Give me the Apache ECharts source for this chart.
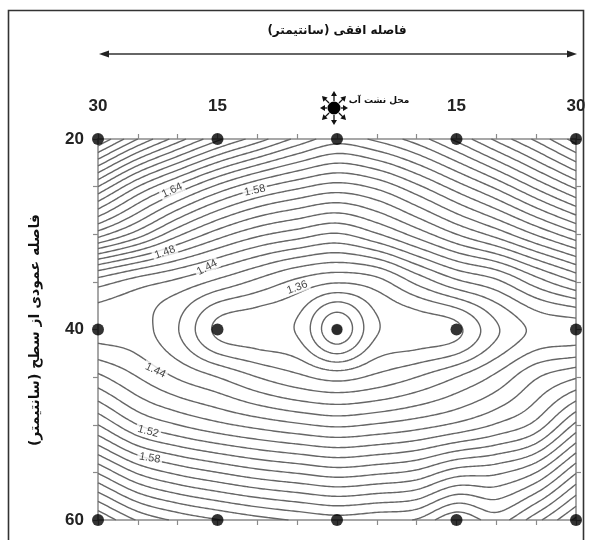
<!DOCTYPE html>
<html><head><meta charset="utf-8">
<script src="https://cdn.jsdelivr.net/npm/echarts@6/dist/echarts.min.js"></script>
<style>html,body{margin:0;padding:0;background:#fff}#c{width:591px;height:540px}</style>
</head><body><div id="c"></div>
<script>
// ---- data ----
const xNodes = [-30,-25,-20,-15,-10,-5,0,5,10,15,20,25,30];
const yNodes = [20,25,30,35,40,45,50,55,60];
const row20 = [1.90,1.84,1.79,1.745,1.71,1.675,1.65,1.665,1.69,1.725,1.765,1.805,1.85];
const row25 = [1.76,1.70,1.655,1.615,1.585,1.565,1.552,1.565,1.595,1.63,1.665,1.705,1.745];
const row30 = [1.63,1.59,1.545,1.51,1.485,1.47,1.458,1.478,1.508,1.54,1.568,1.602,1.635];
const row35 = [1.47,1.45,1.435,1.415,1.395,1.375,1.362,1.372,1.405,1.435,1.455,1.49,1.52];
const row40 = [1.432,1.428,1.401,1.355,1.346,1.338,1.285,1.338,1.346,1.355,1.397,1.425,1.43];
const row45 = [1.485,1.46,1.438,1.42,1.40,1.385,1.373,1.385,1.40,1.42,1.445,1.478,1.498];
const row50 = [1.56,1.52,1.50,1.485,1.473,1.463,1.456,1.462,1.471,1.484,1.502,1.527,1.585];
const row55 = [1.658,1.617,1.595,1.58,1.567,1.558,1.55,1.556,1.565,1.59,1.596,1.62,1.678];
const row60 = [1.76,1.718,1.696,1.681,1.668,1.658,1.65,1.656,1.662,1.698,1.672,1.713,1.765];
const levels = [1.30,1.32,1.34,1.36,1.38,1.40,1.42,1.44,1.46,1.48,1.50,1.52,1.54,1.56,1.58,1.60,1.62,1.64,1.66,1.68,1.70,1.72,1.74,1.76,1.78,1.80,1.82,1.84,1.86,1.88];
const xTickValues = [-30,-15,15,30];
const xTickTexts = ['30','15','15','30'];
const yTickValues = [20,40,60];
const dotXs = [-30,-15,0,15,30];
const dotYs = [20,40,60];
const labelTexts = ['1.64','1.58','1.48','1.44','1.36','1.44','1.52','1.58'];
const labelXs = [-20.7,-10.3,-21.6,-16.3,-5.0,-22.8,-23.7,-23.5];
const labelYs = [25.4,25.4,31.9,33.5,35.6,44.3,50.7,53.5];
const labelAngles = [25,12,20,28,20,-25,-15,-10];

// ---- contour computation (bicubic resampling of the read grid + marching squares) ----
const G = [row20,row25,row30,row35,row40,row45,row50,row55,row60];
const NX = xNodes.length, NY = yNodes.length;
function g(i,j){
  if (j<0) return 2*g(i,0)-g(i,1);
  if (j>NY-1) return 2*g(i,NY-1)-g(i,NY-2);
  if (i<0) return 2*g(0,j)-g(1,j);
  if (i>NX-1) return 2*g(NX-1,j)-g(NX-2,j);
  return G[j][i];
}
function cr(p0,p1,p2,p3,t){const t2=t*t,t3=t2*t;return 0.5*(2*p1+(-p0+p2)*t+(2*p0-5*p1+4*p2-p3)*t2+(-p0+3*p1-3*p2+p3)*t3);}
function sample(u,v){
  let i0=Math.min(Math.floor(u),NX-2), j0=Math.min(Math.floor(v),NY-2);
  const tu=u-i0, tv=v-j0; const r=[];
  for(let k=-1;k<=2;k++){ r.push(cr(g(i0-1,j0+k),g(i0,j0+k),g(i0+1,j0+k),g(i0+2,j0+k),tu)); }
  return cr(r[0],r[1],r[2],r[3],tv);
}
const SUB=20;
const fnx=(NX-1)*SUB+1, fny=(NY-1)*SUB+1;
const fx=[], fy=[], F=[];
for(let i=0;i<fnx;i++) fx.push(xNodes[0]+(xNodes[NX-1]-xNodes[0])*i/(fnx-1));
for(let j=0;j<fny;j++) fy.push(yNodes[0]+(yNodes[NY-1]-yNodes[0])*j/(fny-1));
for(let j=0;j<fny;j++){const row=[];for(let i=0;i<fnx;i++) row.push(sample(i/SUB,j/SUB));F.push(row);}

function contour(level){
  const pts=new Map(); const segs=[];
  const key=(t,i,j)=>t+i+','+j;
  function P(t,i,j){
    const k=key(t,i,j); if(pts.has(k)) return k;
    let p;
    if(t==='h'){const a=F[j][i],b=F[j][i+1];const s=(level-a)/(b-a);p=[fx[i]+s*(fx[i+1]-fx[i]),fy[j]];}
    else {const a=F[j][i],b=F[j+1][i];const s=(level-a)/(b-a);p=[fx[i],fy[j]+s*(fy[j+1]-fy[j])];}
    pts.set(k,p); return k;
  }
  for(let j=0;j<fny-1;j++) for(let i=0;i<fnx-1;i++){
    const a=F[j][i],b=F[j][i+1],c=F[j+1][i+1],d=F[j+1][i];
    const idx=(a>level?8:0)|(b>level?4:0)|(c>level?2:0)|(d>level?1:0);
    if(idx===0||idx===15) continue;
    const T=()=>P('h',i,j), R=()=>P('v',i+1,j), B=()=>P('h',i,j+1), L=()=>P('v',i,j);
    const center=(a+b+c+d)/4>level;
    switch(idx){
      case 1: case 14: segs.push([L(),B()]); break;
      case 2: case 13: segs.push([B(),R()]); break;
      case 3: case 12: segs.push([L(),R()]); break;
      case 4: case 11: segs.push([T(),R()]); break;
      case 6: case 9: segs.push([T(),B()]); break;
      case 7: case 8: segs.push([L(),T()]); break;
      case 5: if(center){segs.push([L(),T()]);segs.push([B(),R()]);} else {segs.push([T(),R()]);segs.push([L(),B()]);} break;
      case 10: if(center){segs.push([T(),R()]);segs.push([L(),B()]);} else {segs.push([L(),T()]);segs.push([B(),R()]);} break;
    }
  }
  const adj=new Map();
  segs.forEach((s,k)=>{for(const e of s){if(!adj.has(e))adj.set(e,[]);adj.get(e).push(k);}});
  const used=new Uint8Array(segs.length); const lines=[];
  function extend(ch){
    while(true){const last=ch[ch.length-1];const list=adj.get(last);let nx=-1;
      for(const m of list){if(!used[m]){nx=m;break;}}
      if(nx<0)break; used[nx]=1; const s=segs[nx]; ch.push(s[0]===last?s[1]:s[0]);}
  }
  for(let k=0;k<segs.length;k++){
    if(used[k])continue; used[k]=1; const ch=[segs[k][0],segs[k][1]];
    extend(ch); ch.reverse(); extend(ch);
    lines.push(ch.map(e=>pts.get(e)));
  }
  return lines;
}
const contourData=[];
levels.forEach(lv=>{contour(lv).forEach(c=>contourData.push({coords:c,value:lv}));});

const dots=[]; dotYs.forEach(y=>dotXs.forEach(x=>dots.push([x,y])));
const labelData=labelTexts.map((t,k)=>({value:[labelXs[k],labelYs[k]],name:t,label:{rotate:labelAngles[k]}}));

const chart=echarts.init(document.getElementById('c'),null,{renderer:'canvas'});
const axisGray='#8a8a8a';
const numFont={fontFamily:'Liberation Sans',fontSize:17,fontWeight:'bold',color:'#222'};
function arrowGraphics(cx,cy){
  const out=[];
  for(let k=0;k<8;k++){
    const a=k*Math.PI/4, c=Math.cos(a), s=Math.sin(a);
    const r1=7, r2=(k%4===0)?14:17;
    out.push({type:'line',shape:{x1:cx+r1*c,y1:cy+r1*s,x2:cx+(r2-3)*c,y2:cy+(r2-3)*s},style:{stroke:'#111',lineWidth:1.3}});
    const tx=cx+r2*c, ty=cy+r2*s, bx=cx+(r2-5)*c, by=cy+(r2-5)*s;
    out.push({type:'polygon',shape:{points:[[tx,ty],[bx-3*s,by+3*c],[bx+3*s,by-3*c]]},style:{fill:'#111'}});
  }
  out.push({type:'circle',shape:{cx:cx,cy:cy,r:6.5},style:{fill:'#000'}});
  return out;
}
const edgeAxis={axisLine:{onZero:false,lineStyle:{color:axisGray,width:1.5}},
  axisTick:{show:true,length:5,lineStyle:{color:axisGray,width:1.2}},splitLine:{show:false}};
chart.setOption({
  animation:false,
  backgroundColor:'#fff',
  grid:{left:98,right:15,top:139,bottom:20,containLabel:false},
  xAxis:[
    Object.assign({type:'value',position:'top',min:-30,max:30,interval:5,
     axisLabel:Object.assign({margin:24,formatter:v=>{const k=xTickValues.indexOf(v);return k<0?'':xTickTexts[k];}},numFont)},edgeAxis),
    Object.assign({type:'value',position:'bottom',min:-30,max:30,interval:5,axisLabel:{show:false}},edgeAxis)
  ],
  yAxis:[
    Object.assign({type:'value',position:'left',inverse:true,min:20,max:60,interval:5,
     axisLabel:Object.assign({margin:14,formatter:v=>yTickValues.indexOf(v)<0?'':String(v)},numFont)},edgeAxis),
    Object.assign({type:'value',position:'right',inverse:true,min:20,max:60,interval:5,axisLabel:{show:false}},edgeAxis)
  ],
  series:[
    {type:'lines',coordinateSystem:'cartesian2d',polyline:true,silent:true,z:2,
     lineStyle:{color:'#666',width:1.4,opacity:1},data:contourData},
    {type:'scatter',silent:true,z:4,symbolSize:0.1,itemStyle:{color:'rgba(0,0,0,0)'},
     label:{show:true,position:'inside',formatter:p=>p.name,fontFamily:'Liberation Sans',fontSize:11,color:'#111',
            backgroundColor:'#fff',padding:[0,2]},
     data:labelData},
    {type:'scatter',silent:true,z:5,clip:false,symbolSize:12,itemStyle:{color:'#000'},data:dots},
    {type:'scatter',silent:true,z:5,clip:false,symbol:'emptyCircle',symbolSize:17,
     itemStyle:{color:'#fff',borderColor:'#666',borderWidth:1.5},data:[[0,40]]},
    {type:'scatter',silent:true,z:6,clip:false,symbolSize:11,itemStyle:{color:'#000'},data:[[0,40]]}
  ],
  graphic:[
    {type:'rect',shape:{x:8.5,y:10.5,width:575,height:545},style:{fill:'none',stroke:'#333',lineWidth:1.6},z:0},
    {type:'text',x:337,y:31,style:{text:'فاصله افقی (سانتیمتر)',align:'center',verticalAlign:'middle',
      font:'bold 12px "DejaVu Sans"',fill:'#111'}},
    {type:'line',shape:{x1:106,y1:54,x2:570,y2:54},style:{stroke:'#333',lineWidth:1.5}},
    {type:'polygon',shape:{points:[[99,54],[109,50.5],[109,57.5]]},style:{fill:'#222'}},
    {type:'polygon',shape:{points:[[577,54],[567,50.5],[567,57.5]]},style:{fill:'#222'}},
    {type:'text',x:35,y:330,rotation:Math.PI/2,style:{text:'فاصله عمودی از سطح (سانتیمتر)',align:'center',verticalAlign:'middle',
      font:'bold 14px "DejaVu Sans"',fill:'#111'}},
    {type:'group',children:arrowGraphics(334,108)},
    {type:'text',x:379,y:101,style:{text:'محل نشت آب',align:'center',verticalAlign:'middle',
      font:'bold 9px "DejaVu Sans"',fill:'#111'}}
  ]
});
</script></body></html>
